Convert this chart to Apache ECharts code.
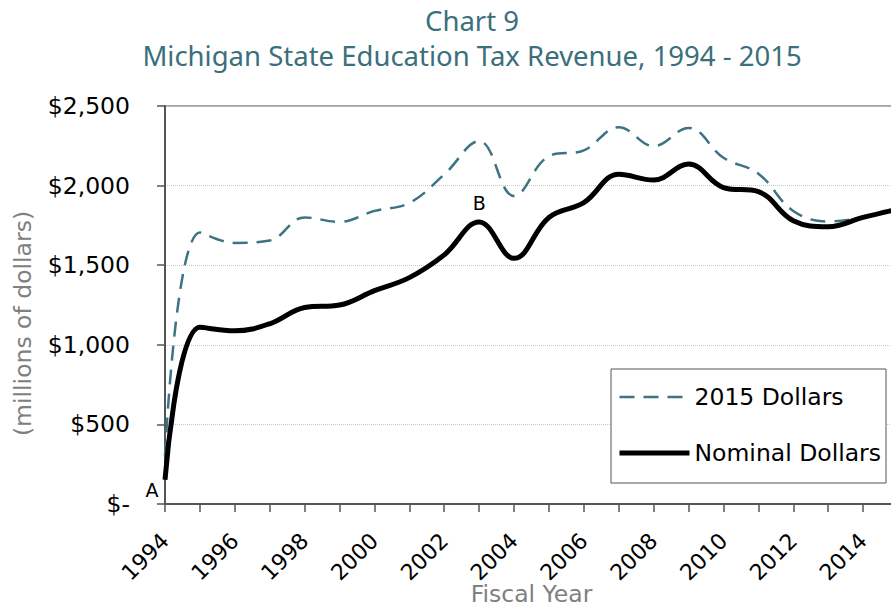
<!DOCTYPE html>
<html><head><meta charset="utf-8">
<script src="https://cdn.jsdelivr.net/npm/echarts@6/dist/echarts.min.js"></script>
<style>html,body{margin:0;padding:0;background:#fff}#c{width:891px;height:611px}</style>
</head><body><div id="c"></div>
<script>
const years = ['1994','1995','1996','1997','1998','1999','2000','2001','2002','2003','2004','2005','2006','2007','2008','2009','2010','2011','2012','2013','2014','2015'];
const real2015 = [300,1705,1640,1655,1800,1772,1841,1891,2070,2279,1935,2185,2221,2367,2248,2362,2175,2075,1841,1775,1800,1852];
const nominal = [152,1110,1088,1132,1234,1250,1340,1422,1565,1772,1543,1800,1893,2071,2035,2135,1988,1962,1779,1741,1800,1852];
const annotA = {index:0, text:'A'};
const annotB = {index:9, text:'B'};

const chart = echarts.init(document.getElementById('c'), null, {renderer:'svg'});
const labelFont = {fontSize:19, color:'#000', fontFamily:'DejaVu Sans'};
chart.setOption({
  animation:false,
  title:{text:'Chart 9\nMichigan State Education Tax Revenue, 1994 - 2015', left:467, top:-2, textAlign:'center',
    textStyle:{fontFamily:'Noto Sans', fontSize:27.5, fontWeight:'normal', color:'#3a6f7c', lineHeight:35}},
  grid:{left:165, right:-7, top:106, bottom:107, containLabel:false, outerBoundsMode:'none', show:true, borderColor:'#888', borderWidth:1.5},
  legend:{orient:'vertical', left:611, top:369, padding:[16,5,18,6], itemGap:32, itemWidth:70, itemHeight:14,
    borderColor:'#555', borderWidth:1, backgroundColor:'#fff',
    itemStyle:{opacity:0},
    textStyle:{fontFamily:'DejaVu Sans', fontSize:23.5, color:'#000'},
    data:[{name:'2015 Dollars', lineStyle:{width:2.5}}, {name:'Nominal Dollars', lineStyle:{width:5}}]},
  xAxis:{type:'category', data:years, boundaryGap:false,
    name:'Fiscal Year', nameLocation:'middle', nameGap:78, nameMoveOverlap:false,
    nameTextStyle:{fontFamily:'DejaVu Sans', fontSize:23.5, color:'#808080'},
    axisLine:{lineStyle:{color:'#555', width:2}},
    axisTick:{show:true, interval:0, length:8, lineStyle:{color:'#555', width:1.5}},
    axisLabel:{interval:1, rotate:45, margin:33, fontFamily:'DejaVu Sans', fontSize:22, color:'#000'},
    splitLine:{show:false}},
  yAxis:{type:'value', min:0, max:2500, interval:500,
    name:'(millions of dollars)', nameLocation:'middle', nameGap:130, nameRotate:90,
    nameTextStyle:{fontFamily:'DejaVu Sans', fontSize:23.5, color:'#808080', padding:[0,37,0,0]},
    axisLine:{show:true, lineStyle:{color:'#555', width:2}},
    axisTick:{show:true, length:8, lineStyle:{color:'#555', width:1.5}},
    axisLabel:{margin:35, fontFamily:'DejaVu Sans', fontSize:23.5, color:'#000',
      formatter:v=> v===0 ? '$-' : '$' + v.toLocaleString('en-US')},
    splitLine:{show:true, lineStyle:{color:'#c8c8c8', type:'dotted', width:1}}},
  series:[
    {name:'2015 Dollars', type:'line', data:real2015, smooth:0.4, symbol:'none',
      lineStyle:{color:'#3d7483', width:2.5, type:[15,9]}, itemStyle:{color:'#3d7483'}},
    {name:'Nominal Dollars', type:'line', data:nominal, smooth:0.4, symbol:'none',
      lineStyle:{color:'#000', width:5}, itemStyle:{color:'#000'},
      markPoint:{symbol:'circle', symbolSize:0, silent:true,
        data:[
          {coord:[annotA.index, nominal[annotA.index]], value:annotA.text,
            label:Object.assign({show:true, position:'inside', offset:[-13,10], formatter:annotA.text}, labelFont)},
          {coord:[annotB.index, nominal[annotB.index]], value:annotB.text,
            label:Object.assign({show:true, position:'inside', offset:[0,-19], formatter:annotB.text}, labelFont)}
        ]}}
  ]
});
</script></body></html>
